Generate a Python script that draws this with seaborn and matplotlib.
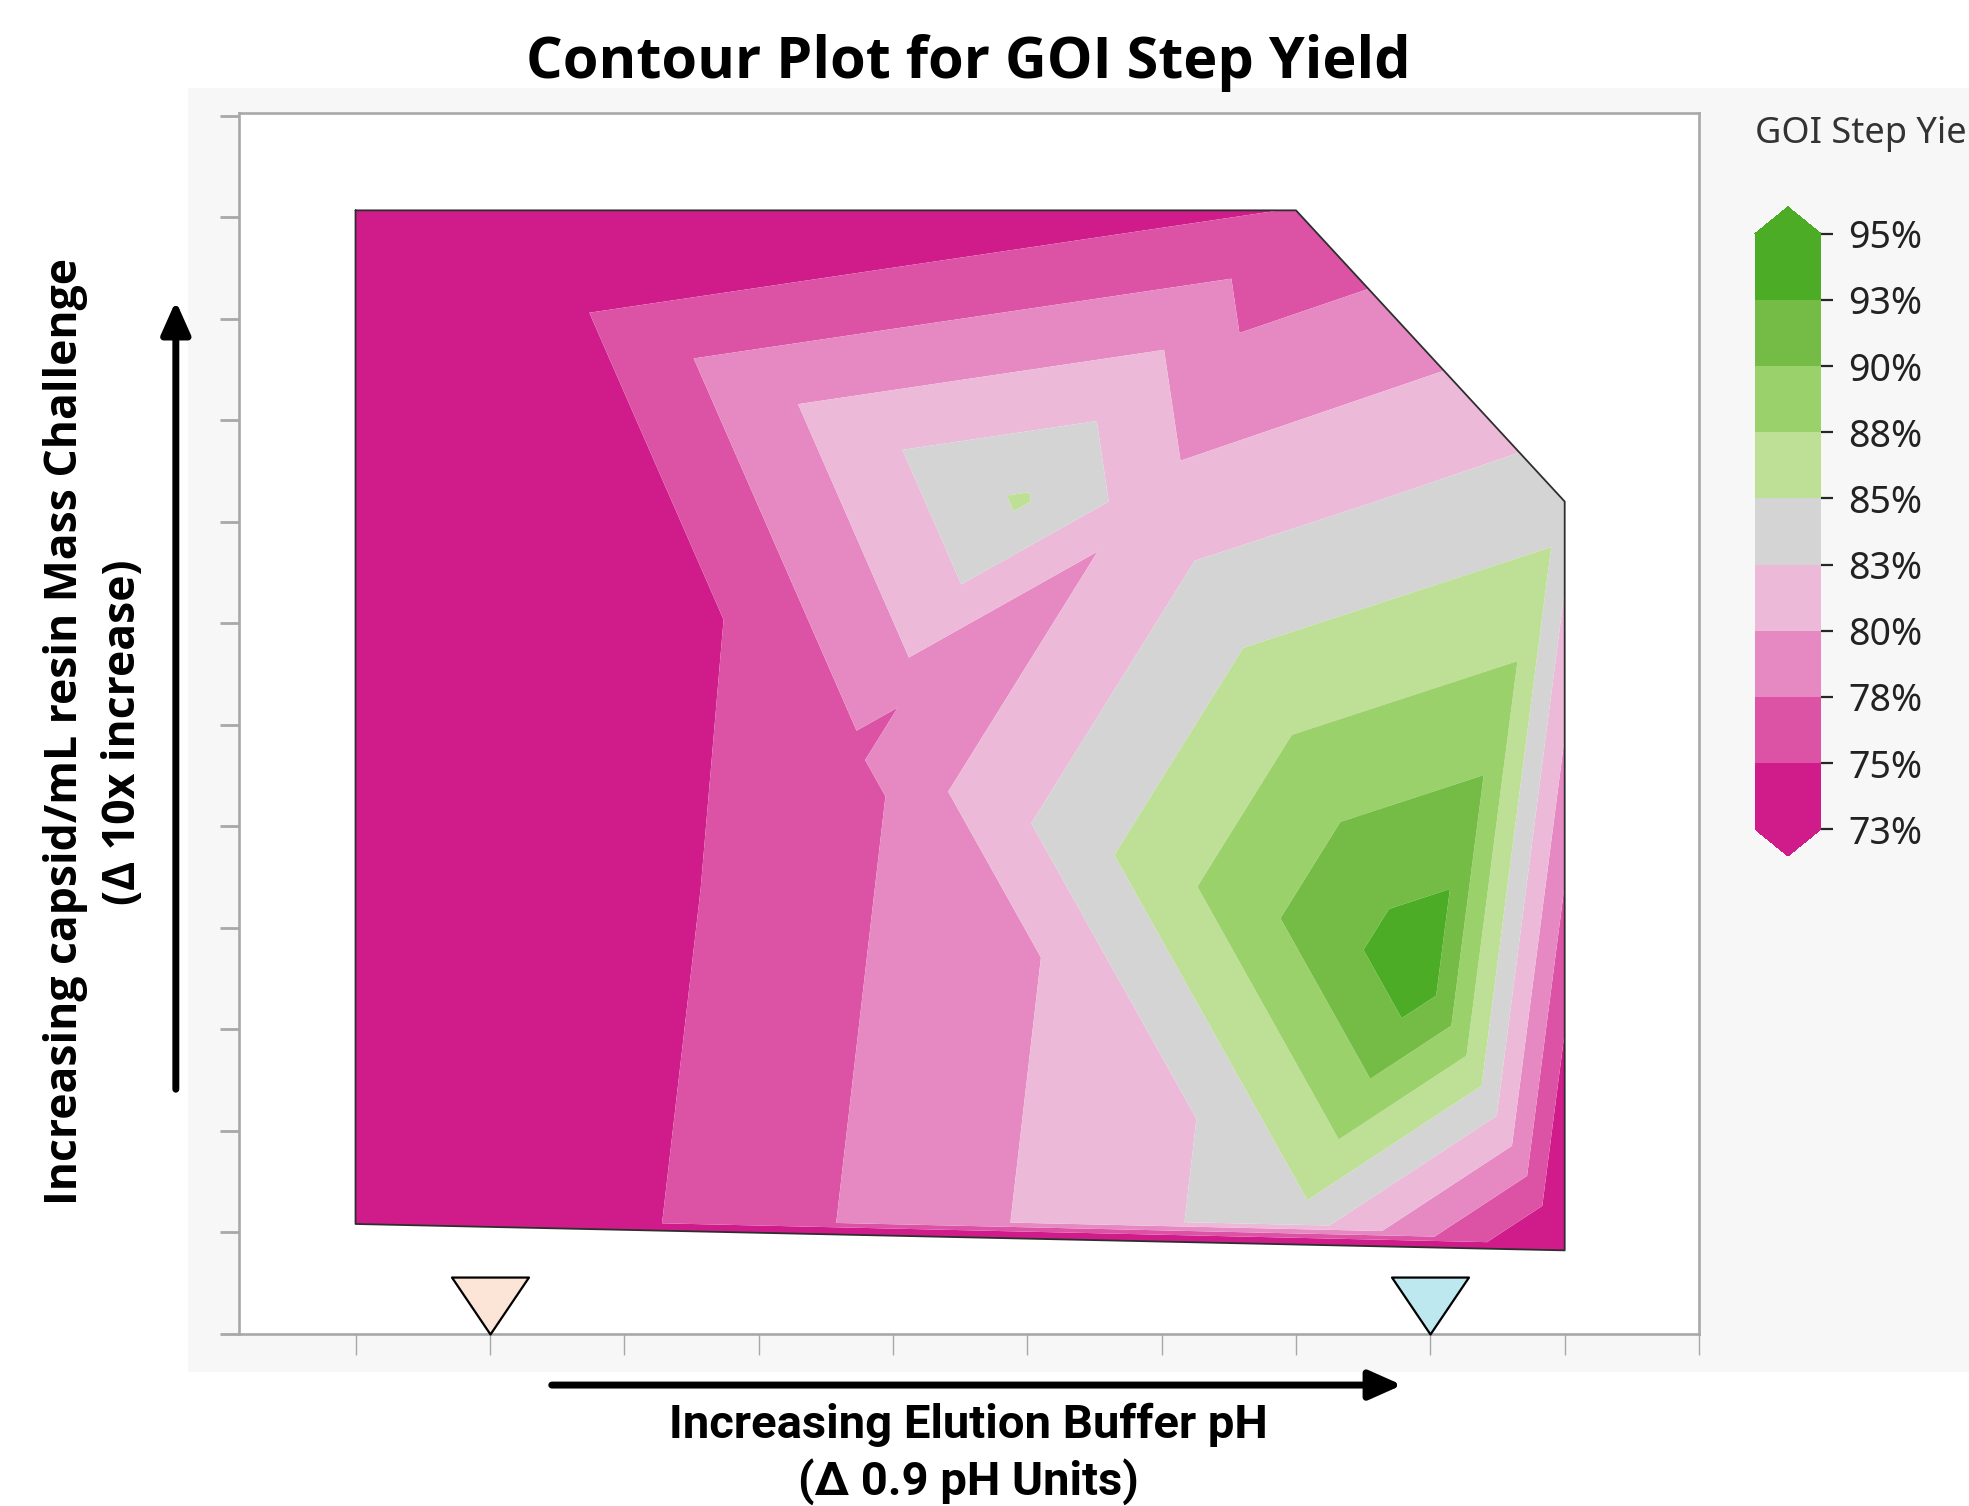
import numpy as np
import matplotlib
matplotlib.use("Agg")
import matplotlib.pyplot as plt
import matplotlib.tri as mtri
from matplotlib.colors import ListedColormap, BoundaryNorm
from matplotlib.cm import ScalarMappable
from matplotlib.patches import Rectangle, FancyArrowPatch
from matplotlib.path import Path
import seaborn as sns

sns.set_theme(style="white")
plt.rcParams['font.family'] = ['Noto Sans', 'DejaVu Sans']
plt.rcParams['text.color'] = 'black'

# design points: pH step (0.1 pH units), mass challenge step, measured yield (%)
ph_step = [0.0, 7.0, 9.0, 9.0, 0.0, 7.0, 4.95, 6.0, 3.62, 7.96]
mass_step = [11.07, 11.07, 8.2, 0.82, 1.08, 1.1, 8.2, 8.2, 5.74, 3.55]
step_yield = [69.4, 75.1, 84.0, 71.3, 70.6, 84.1, 85.33, 80.8, 76.8, 94.35]

# triangulation of the design points (indices into the arrays above)
triangles = [
    (0, 1, 6), (6, 1, 7), (1, 7, 2), (7, 2, 9), (9, 2, 3), (9, 3, 5), (4, 5, 3),
    (4, 8, 5), (8, 9, 5), (8, 7, 9), (6, 7, 8), (0, 6, 8), (0, 8, 4),
]
hull = [0, 1, 2, 3, 4, 0]

levels = [72.5, 75, 77.5, 80, 82.5, 85, 87.5, 90, 92.5, 95]
level_labels = ["73%", "75%", "78%", "80%", "83%", "85%", "88%", "90%", "93%", "95%"]
band_colors = ["#D01C8B", "#DC52A4", "#E689C3", "#EDB9D9", "#D4D4D4",
               "#BEE096", "#9BD16B", "#74BC46", "#4DAC26"]
under_color = "#D01C8B"
over_color = "#4DAC26"
tick_colors = ["#D01C8B", "#D84598", "#E47AB8", "#EDAED3", "#E6C8DA",
               "#C8DDB4", "#ABD98A", "#8ECB5C", "#5FB534", "#4DAC26"]

marker_ph = [1, 8]
marker_colors = ["#FCE4D6", "#BDE8F0"]

fig = plt.figure(figsize=(19.69, 15.06), dpi=100)
fig.add_artist(Rectangle((0.0955, 0.089), 1 - 0.0955, 0.9416 - 0.089,
                         transform=fig.transFigure, facecolor="#F7F7F7",
                         edgecolor="none", zorder=0))

ax = fig.add_axes([0.1212, 0.1145, 0.7417, 0.8105])
ax.set_facecolor("white")

# the lowest band has the same colour as "below", so it is merged into it
tri = mtri.Triangulation(ph_step, mass_step, triangles=triangles)
ax.tricontourf(tri, step_yield, levels=levels[1:],
               colors=[under_color] + band_colors[1:] + [over_color],
               extend="both", antialiased=True)
hx = [ph_step[i] for i in hull]
hy = [mass_step[i] for i in hull]
ax.plot(hx, hy, color="#2E2E2E", lw=1.3, zorder=3)

# reference pH markers sitting on the x axis
tri_marker = Path([(-1, 1.48), (1, 1.48), (0, 0), (-1, 1.48)],
                  [Path.MOVETO, Path.LINETO, Path.LINETO, Path.CLOSEPOLY])
for xp, c in zip(marker_ph, marker_colors):
    ax.plot([xp], [0], marker=tri_marker, ms=82, mfc=c, mec="black",
            mew=1.6, ls="none", clip_on=False, zorder=5)

ax.set_xlim(-0.87, 10)
ax.set_ylim(0, 12.03)
ax.set_xticks(range(0, 11))
ax.set_yticks(range(0, 13))
ax.set_xticklabels([])
ax.set_yticklabels([])
ax.tick_params(axis="x", direction="out", length=15, width=1.0,
               color="#A8A8A8", bottom=True)
ax.tick_params(axis="y", direction="out", length=14, width=2.0,
               color="#A8A8A8", left=True)
for sp in ax.spines.values():
    sp.set_color("#A8A8A8")
    sp.set_linewidth(1.9)

# colour legend
cmap = ListedColormap(band_colors)
cmap.set_under(under_color)
cmap.set_over(over_color)
sm = ScalarMappable(norm=BoundaryNorm(levels, cmap.N), cmap=cmap)
cax = fig.add_axes([0.8913, 0.4316, 0.0335, 0.431])
cbar = fig.colorbar(sm, cax=cax, extend="both", extendfrac=0.045, ticks=levels)
cbar.set_ticklabels(level_labels)
cbar.outline.set_visible(False)
cbar.ax.tick_params(length=8.6, width=1.6, pad=11, labelsize=27,
                    labelcolor="#222222")
for t, c in zip(cbar.ax.yaxis.get_major_ticks(), tick_colors):
    t.tick1line.set_color(c)
    t.tick2line.set_color(c)
fig.text(0.8913, 0.911, "GOI Step Yield", fontsize=26, color="#333333",
         ha="left", va="center")

# titles and axis captions
fig.text(0.492, 0.958, "Contour Plot for GOI Step Yield", fontsize=41.5,
         fontweight="bold", family=["Open Sans", "DejaVu Sans"],
         ha="center", va="center")
xfam = ["Roboto", "DejaVu Sans"]
fig.text(0.492, 0.0537, "Increasing Elution Buffer pH", fontsize=34,
         fontweight="bold", family=xfam, ha="center", va="center")
fig.text(0.492, 0.016, "(\u0394 0.9 pH Units)", fontsize=34,
         fontweight="bold", family=xfam, ha="center", va="center")
yfam = ["Open Sans", "DejaVu Sans"]
fig.text(0.0335, 0.514, "Increasing capsid/mL resin Mass Challenge", fontsize=32,
         fontweight="bold", family=yfam, rotation=90, ha="center", va="center")
fig.text(0.0625, 0.514, "(\u0394 10x increase)", fontsize=32,
         fontweight="bold", family=yfam, rotation=90, ha="center", va="center")

# direction arrows
fig.add_artist(FancyArrowPatch((0.0893, 0.2749), (0.0893, 0.802),
                               transform=fig.transFigure,
                               arrowstyle="-|>,head_length=0.9,head_width=0.4",
                               mutation_scale=22, lw=5, color="black"))
fig.add_artist(FancyArrowPatch((0.2788, 0.0803), (0.7135, 0.0803),
                               transform=fig.transFigure,
                               arrowstyle="-|>,head_length=0.9,head_width=0.4",
                               mutation_scale=22, lw=5, color="black"))

fig.savefig("out.png", dpi=100)
